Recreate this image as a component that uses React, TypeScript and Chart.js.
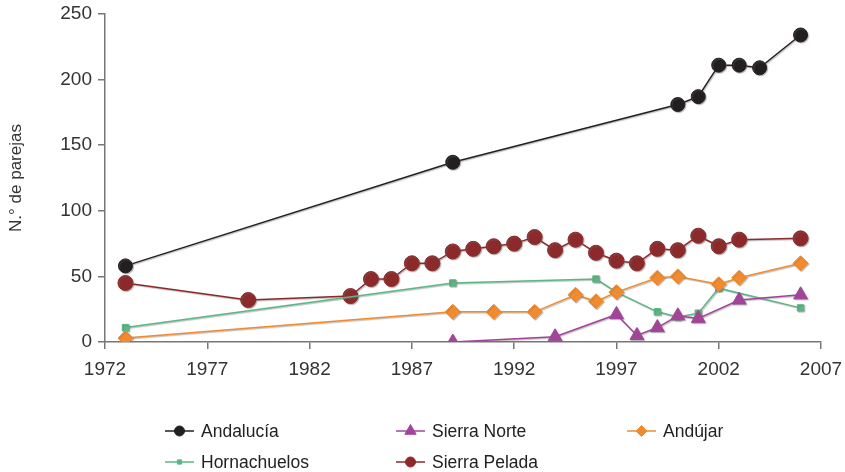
import React, { useEffect, useRef } from "react";
import { Chart, registerables } from "chart.js";
import { drawPoint } from "chart.js/helpers";

Chart.register(...registerables);

// ---- data ----
const andaluciaYears = [1973, 1989, 2000, 2001, 2002, 2003, 2004, 2006];
const andaluciaValues = [58, 137, 181, 187, 211, 211, 209, 234];

const sierraNorteYears = [1989, 1994, 1997, 1998, 1999, 2000, 2001, 2003, 2006];
const sierraNorteValues = [0, 4, 21, 5, 11, 20, 18, 32, 36];

const andujarYears = [1973, 1989, 1991, 1993, 1995, 1996, 1997, 1999, 2000, 2002, 2003, 2006];
const andujarValues = [3, 23, 23, 23, 36, 31, 38, 49, 50, 44, 49, 60];

const hornachuelosYears = [1973, 1989, 1996, 1997, 1999, 2000, 2001, 2002, 2006];
const hornachuelosValues = [11, 45, 48, 38, 23, 19, 22, 41, 26];

const sierraPeladaYears = [1973, 1979, 1984, 1985, 1986, 1987, 1988, 1989, 1990, 1991, 1992, 1993, 1994, 1995, 1996, 1997, 1998, 1999, 2000, 2001, 2002, 2003, 2006];
const sierraPeladaValues = [45, 32, 35, 48, 48, 60, 60, 69, 71, 73, 75, 80, 70, 78, 68, 62, 60, 71, 70, 81, 73, 78, 79];

const seriesNames = ["Andalucía", "Sierra Norte", "Andújar", "Hornachuelos", "Sierra Pelada"];
const yAxisTitle = "N.° de parejas";
const xMin = 1972;
const xMax = 2007;
const xStep = 5;
const yMin = 0;
const yMax = 250;
const yStep = 50;

const toPoints = (xs: number[], ys: number[]) => xs.map((x, i) => ({ x, y: ys[i] }));

const TICK_FONT = { family: "'Liberation Sans', Arial, sans-serif", size: 19 };
const LEGEND_FONT = "17.5px 'Liberation Sans', Arial, sans-serif";

const shadowPlugin = {
  id: "softShadow",
  beforeDatasetsDraw(chart: any) {
    const ctx = chart.ctx;
    ctx.save();
    ctx.shadowColor = "rgba(110,110,110,0.45)";
    ctx.shadowOffsetX = 1;
    ctx.shadowOffsetY = 1;
    ctx.shadowBlur = 1;
  },
  afterDatasetsDraw(chart: any) {
    chart.ctx.restore();
  },
};

const legendPlugin = {
  id: "customLegend",
  afterDraw(chart: any) {
    const ctx = chart.ctx;
    const cols = [165, 396, 627];
    const rows = [431, 462];
    const lineLen = 29;
    chart.data.datasets.forEach((ds: any, i: number) => {
      const x = cols[i % 3];
      const y = rows[Math.floor(i / 3)];
      ctx.save();
      ctx.strokeStyle = ds.borderColor;
      ctx.lineWidth = 1.5;
      ctx.beginPath();
      ctx.moveTo(x, y);
      ctx.lineTo(x + lineLen, y);
      ctx.stroke();
      ctx.fillStyle = ds.pointBackgroundColor;
      ctx.strokeStyle = ds.pointBorderColor;
      ctx.lineWidth = 1;
      drawPoint(
        ctx,
        { pointStyle: ds.pointStyle, radius: ds.legendRadius, rotation: 0, borderWidth: 1 } as any,
        x + lineLen / 2,
        y
      );
      ctx.restore();
      ctx.save();
      ctx.fillStyle = "#222";
      ctx.font = LEGEND_FONT;
      ctx.textBaseline = "middle";
      ctx.textAlign = "left";
      ctx.fillText(ds.label, x + 36, y + 1);
      ctx.restore();
    });
  },
};

export default function App() {
  const canvasRef = useRef<HTMLCanvasElement | null>(null);

  useEffect(() => {
    document.body.style.margin = "0";
    const canvas = canvasRef.current;
    if (!canvas) return;
    const black = "#231f20";
    const purple = "#a3449a";
    const orange = "#f18b2e";
    const green = "#5bb784";
    const red = "#8c2a2b";

    const mk = (i: number, xs: number[], ys: number[], color: string, style: string, r: number, lr: number) =>
      ({
        label: seriesNames[i],
        data: toPoints(xs, ys),
        borderColor: color,
        backgroundColor: color,
        pointBackgroundColor: color,
        pointBorderColor: color,
        pointStyle: style,
        pointRadius: r,
        legendRadius: lr,
        borderWidth: 1.5,
        pointBorderWidth: 1,
      } as any);

    const chart = new Chart(canvas, {
      type: "line",
      data: {
        datasets: [
          mk(0, andaluciaYears, andaluciaValues, black, "circle", 7, 5),
          mk(1, sierraNorteYears, sierraNorteValues, purple, "triangle", 8, 6.5),
          mk(2, andujarYears, andujarValues, orange, "rectRot", 7.5, 5.5),
          mk(3, hornachuelosYears, hornachuelosValues, green, "rect", 4.5, 3),
          mk(4, sierraPeladaYears, sierraPeladaValues, red, "circle", 7.5, 5),
        ],
      },
      options: {
        animation: false,
        responsive: false,
        maintainAspectRatio: false,
        layout: { padding: { left: 2, right: 24, top: 14, bottom: 90 } },
        plugins: {
          legend: { display: false },
          tooltip: { enabled: false },
        },
        elements: { line: { tension: 0 } },
        scales: {
          x: {
            type: "linear",
            min: xMin,
            max: xMax,
            afterFit: (scale: any) => {
              scale.height = 40;
              scale.paddingLeft = 0;
              scale.paddingRight = 0;
            },
            ticks: {
              stepSize: xStep,
              color: "#333",
              font: TICK_FONT,
              padding: 9,
              maxRotation: 0,
              callback: (v: any) => String(v),
            },
            grid: {
              display: true,
              drawOnChartArea: false,
              drawTicks: true,
              tickLength: 7,
              color: "#777",
              lineWidth: 1.5,
            },
            border: { display: true, color: "#777", width: 1.5 },
          },
          y: {
            type: "linear",
            min: yMin,
            max: yMax,
            afterFit: (scale: any) => {
              scale.width = 103;
              scale.paddingTop = 0;
              scale.paddingBottom = 0;
            },
            ticks: {
              stepSize: yStep,
              color: "#333",
              font: TICK_FONT,
              padding: 6,
            },
            grid: {
              display: true,
              drawOnChartArea: false,
              drawTicks: true,
              tickLength: 7,
              color: "#777",
              lineWidth: 1.5,
            },
            border: { display: true, color: "#777", width: 1.5 },
            title: {
              display: true,
              text: yAxisTitle,
              color: "#333",
              font: { family: "'Liberation Sans', Arial, sans-serif", size: 17 },
              padding: { top: 4, bottom: 4 },
            },
          },
        },
      } as any,
      plugins: [shadowPlugin, legendPlugin],
    });
    return () => chart.destroy();
  }, []);

  return (
    <div style={{ width: 845, height: 472 }}>
      <canvas ref={canvasRef} width={845} height={472} style={{ display: "block" }} />
    </div>
  );
}
